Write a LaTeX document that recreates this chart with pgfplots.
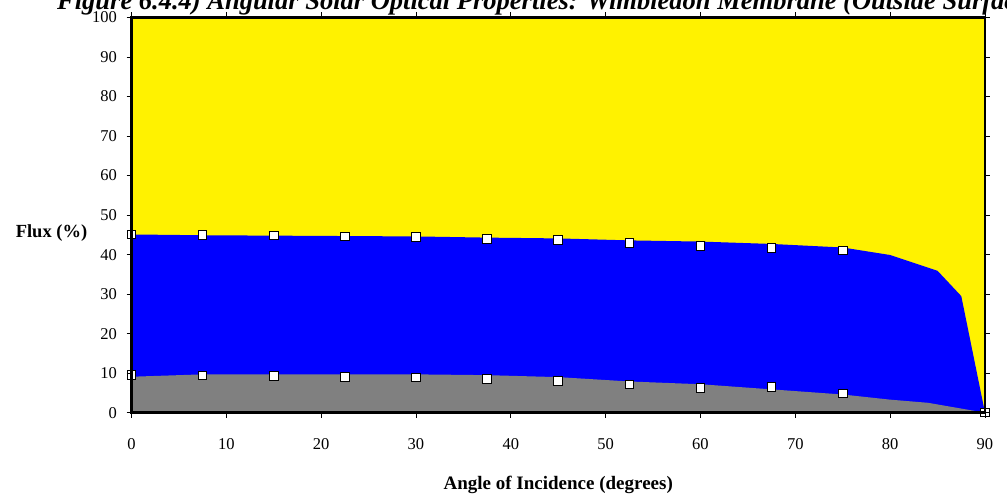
\documentclass[border=0pt]{standalone}
\usepackage{fontspec}
\setmainfont{Liberation Serif}
\usepackage{pgfplots}
\pgfplotsset{compat=1.18}
\begin{document}
\begin{tikzpicture}
\begin{axis}[
  anchor=origin, at={(0,0)},
  scale only axis, width=853.5pt, height=395.2pt,
  xmin=0, xmax=90, ymin=0, ymax=100,
  xtick={0,10,...,90}, ytick={0,10,...,100},
  axis background/.style={fill=yellow},
  set layers=axis on top,
  clip=false,
  axis line style={line width=2.5pt},
  tick align=outside, major tick length=5pt,
  tick style={black, line width=0.8pt},
  /pgf/number format/assume math mode=true,
  ticklabel style={font=\fontsize{16.5}{16.5}\selectfont},
  xticklabel style={yshift=-17pt},
  yticklabel style={xshift=-6pt},
  xlabel={Angle of Incidence (degrees)},
  xlabel style={font=\fontsize{19}{19}\selectfont\bfseries, at={(rel axis cs:0.5,0)}, anchor=base, yshift=-77.3pt},
  ylabel={Flux (\%)},
  ylabel style={font=\fontsize{18.5}{18.5}\selectfont\bfseries, rotate=-90, at={(rel axis cs:0,0.4547)}, anchor=center, xshift=-80pt},
]
\addplot[fill=blue, draw=none] coordinates {
(0,45.1)(7.5,44.9)(15,44.8)(22.5,44.7)(30,44.6)(37.5,44.3)(45,44.1)(52.5,43.6)(60,43.3)(67.5,42.7)(75,41.8)(80,39.9)(85,35.9)(87.5,29.5)(90,0)
} \closedcycle;
\addplot[fill=gray, draw=none] coordinates {
(0,9.1)(7.5,9.7)(15,9.7)(22.5,9.7)(30,9.7)(37.5,9.5)(45,9.0)(52.5,7.9)(60,7.2)(67.5,5.9)(75,4.6)(80,3.3)(84,2.5)(90,0)
} \closedcycle;
\addplot[on layer=axis foreground, only marks, mark=square*, mark size=4.3pt, mark options={fill=white, draw=black, line width=1pt}] coordinates {
(0,45.1)(7.5,44.9)(15,44.8)(22.5,44.6)(30,44.5)(37.5,44.0)(45,43.7)(52.5,42.9)(60,42.2)(67.5,41.6)(75,41.0)(90,0)
};
\addplot[on layer=axis foreground, only marks, mark=square*, mark size=4.3pt, mark options={fill=white, draw=black, line width=1pt}] coordinates {
(0,9.5)(7.5,9.4)(15,9.3)(22.5,9.1)(30,8.9)(37.5,8.5)(45,8.0)(52.5,7.1)(60,6.3)(67.5,6.5)(75,4.9)(90,0)
};
\end{axis}
\node[anchor=base west, inner sep=0pt, font=\fontsize{26.5}{26.5}\selectfont\bfseries\itshape] at (-74.5pt,402.7pt) {Figure 6.4.4) Angular Solar Optical Properties: Wimbledon Membrane (Outside Surface)};
\pgfresetboundingbox
\useasboundingbox (-131.5pt,-82.3pt) rectangle (875.5pt,412.7pt);
\end{tikzpicture}
\end{document}
